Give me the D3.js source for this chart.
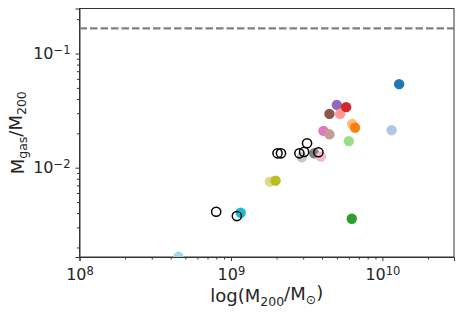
<!DOCTYPE html>
<html>
<head>
<meta charset="utf-8">
<script src="https://cdn.jsdelivr.net/npm/d3@7"></script>
<style>
body { margin: 0; background: #fff; }
text { font-family: "DejaVu Sans", sans-serif; fill: #262626; }
</style>
</head>
<body>
<svg width="463" height="312"></svg>
<script>

// filled halos (tab20 order)
var filledMass = [1.29e10, 1.15e10, 6.6e9, 6.31e9, 6.28e9, 6.0e9, 5.76e9, 5.26e9, 5.0e9, 4.47e9, 4.47e9, 4.08e9, 3.92e9, 3.54e9, 2.94e9, 1.97e9, 1.81e9, 1.16e9, 4.5e8];
var filledFrac = [0.0539, 0.0213, 0.0224, 0.0241, 0.00357, 0.0171, 0.0339, 0.0296, 0.0355, 0.0296, 0.0196, 0.0210, 0.01249, 0.01336, 0.01233, 0.00769, 0.00754, 0.00403, 0.001656];
var filledColor = ["#1f77b4", "#aec7e8", "#ff7f0e", "#ffbb78", "#2ca02c", "#98df8a", "#d62728", "#ff9896", "#9467bd", "#8c564b", "#c49c94", "#e377c2", "#f7b6d2", "#7f7f7f", "#c7c7c7", "#bcbd22", "#dbdb8d", "#17becf", "#9edae5"];

// open circles
var openMass = [7.99e8, 1.094e9, 2.03e9, 2.14e9, 2.83e9, 3.04e9, 3.18e9, 3.78e9];
var openFrac = [0.00411, 0.00377, 0.01336, 0.01336, 0.01336, 0.01374, 0.01637, 0.01365];

var baryonFrac = 0.166;

var xTicks = [1e8, 1e9, 1e10];
var xTickExp = ["8", "9", "10"];
var yTicks = [0.01, 0.1];
var yTickExp = ["\u22122", "\u22121"];

function main() {
	var svg = d3.select("svg");
	var left = 79.5, right = 454, top = 8.5, bottom = 257;
	var width = right - left, height = bottom - top;

	var x = d3.scaleLog().domain([1e8, 2.97e10]).range([0, width]);
	var y = d3.scaleLog().domain([0.00165, 0.248]).range([height, 0]);

	var g = svg.append("g").attr("transform", "translate(" + left + "," + top + ")");

	g.append("clipPath").attr("id", "clip").append("rect")
		.attr("width", width).attr("height", height);

	// minor ticks
	var xMinor = [], yMinor = [];
	[1e8, 1e9, 1e10].forEach(function(b) {
		for (var k = 2; k <= 9; k++) if (b * k <= 2.97e10) xMinor.push(b * k);
	});
	[1e-3, 1e-2, 1e-1].forEach(function(b) {
		for (var k = 2; k <= 9; k++) if (b * k >= 0.00165 && b * k <= 0.248) yMinor.push(b * k);
	});

	var gxm = g.append("g").attr("transform", "translate(0," + height + ")")
		.call(d3.axisBottom(x).tickValues(xMinor).tickSize(2.5).tickFormat(""));
	var gym = g.append("g")
		.call(d3.axisLeft(y).tickValues(yMinor).tickSize(2.5).tickFormat(""));
	gxm.select(".domain").remove();
	gym.select(".domain").remove();

	var gx = g.append("g").attr("transform", "translate(0," + height + ")")
		.call(d3.axisBottom(x).tickValues(xTicks).tickSize(4).tickPadding(8).tickFormat(""));
	gx.selectAll(".tick text").each(function(d, i) {
		var t = d3.select(this).attr("font-size", "16px").attr("font-family", null);
		t.text("10");
		t.append("tspan").attr("dy", "-0.45em").attr("font-size", "11.5px").text(xTickExp[i]);
	});

	var gy = g.append("g")
		.call(d3.axisLeft(y).tickValues(yTicks).tickSize(4).tickPadding(5).tickFormat(""));
	gy.selectAll(".tick text").each(function(d, i) {
		var t = d3.select(this).attr("font-size", "16px").attr("font-family", null);
		t.text("10");
		t.append("tspan").attr("dy", "-0.45em").attr("font-size", "11.5px").text(yTickExp[i]);
	});

	g.selectAll(".domain, .tick line").attr("stroke", "#333").attr("stroke-width", 1);

	// frame
	g.append("rect").attr("width", width).attr("height", height)
		.attr("fill", "none").attr("stroke", "#333").attr("stroke-width", 1);

	var plot = g.append("g").attr("clip-path", "url(#clip)");

	plot.append("line")
		.attr("x1", 0).attr("x2", width)
		.attr("y1", y(baryonFrac)).attr("y2", y(baryonFrac))
		.attr("stroke", "#808080").attr("stroke-width", 2.2)
		.attr("stroke-dasharray", "7.5,3");

	var idx = d3.range(filledMass.length).reverse();
	plot.selectAll(".filled")
		.data(idx)
		.enter().append("circle")
		.attr("class", "filled")
		.attr("cx", function(i) { return x(filledMass[i]); })
		.attr("cy", function(i) { return y(filledFrac[i]); })
		.attr("r", 5.2)
		.attr("fill", function(i) { return filledColor[i]; });

	plot.selectAll(".open")
		.data(d3.range(openMass.length))
		.enter().append("circle")
		.attr("class", "open")
		.attr("cx", function(i) { return x(openMass[i]); })
		.attr("cy", function(i) { return y(openFrac[i]); })
		.attr("r", 4.6)
		.attr("fill", "none")
		.attr("stroke", "#000")
		.attr("stroke-width", 1.5);

	// axis labels
	var xl = svg.append("text").attr("x", left + width / 2).attr("y", 302)
		.attr("text-anchor", "middle").attr("font-size", "18px");
	xl.append("tspan").text("log(M");
	xl.append("tspan").attr("dy", "0.3em").attr("font-size", "12.5px").text("200");
	xl.append("tspan").attr("dy", "-0.3em").text("/M");
	xl.append("tspan").attr("dy", "0.3em").attr("font-size", "12.5px").text("\u2299");
	xl.append("tspan").attr("dy", "-0.3em").text(")");

	var yl = svg.append("text").attr("transform", "translate(23.5," + (top + height / 2) + ") rotate(-90)")
		.attr("text-anchor", "middle").attr("font-size", "18px");
	yl.append("tspan").text("M");
	yl.append("tspan").attr("dy", "0.3em").attr("font-size", "12.5px").text("gas");
	yl.append("tspan").attr("dy", "-0.3em").text("/M");
	yl.append("tspan").attr("dy", "0.3em").attr("font-size", "12.5px").text("200");
}
main();
</script>
</body>
</html>
